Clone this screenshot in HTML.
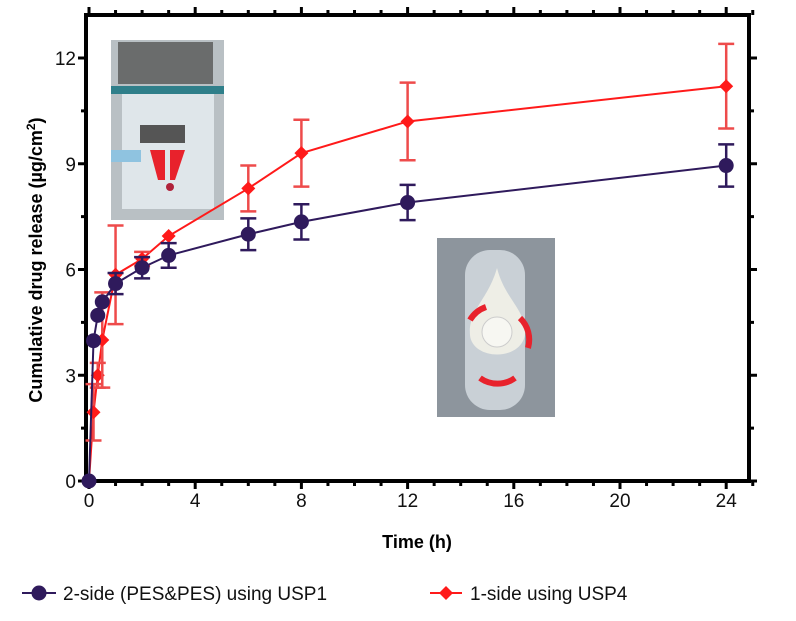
<!DOCTYPE html>
<html><head><meta charset="utf-8"><style>
body{margin:0;background:#fff;width:796px;height:616px;overflow:hidden;font-family:"Liberation Sans",Arial,sans-serif}
svg text{font-family:"Liberation Sans",Arial,sans-serif}
</style></head><body>
<svg id="chart" width="796" height="616">
<g id="insets"></g>
<g id="axes"></g>
<g id="series"></g>
</svg>
<script>
const times=[0,0.17,0.33,0.5,1,2,3,6,8,12,24];
const usp1Vals=[0,3.98,4.7,5.08,5.6,6.05,6.4,7.0,7.35,7.9,8.95];
const usp1Err=[0,0.12,0.1,0.1,0.3,0.3,0.35,0.45,0.5,0.5,0.6];
const usp4Vals=[0,1.95,3.0,4.0,5.85,6.3,6.95,8.3,9.3,10.2,11.2];
const usp4Err=[0,0.8,0.35,1.35,1.4,0.2,0.1,0.65,0.95,1.1,1.2];
const xTicks=[0,4,8,12,16,20,24];
const yTicks=[0,3,6,9,12];
const NS="http://www.w3.org/2000/svg";
const X0=89,XS=26.55,Y0=481,YS=35.25;
const L=86,R=749,T=15,B=481;
function xs(v){return X0+v*XS}
function ys(v){return Y0-v*YS}
function mk(parent,tag,attrs){const e=document.createElementNS(NS,tag);for(const k in attrs)e.setAttribute(k,attrs[k]);parent.appendChild(e);return e}
const axes=document.getElementById('axes'),ser=document.getElementById('series'),ins=document.getElementById('insets');
// insets
let i1=mk(ins,'g',{});


mk(i1,'rect',{x:111,y:40,width:113,height:180,fill:'#b9c0c4'});
mk(i1,'rect',{x:118,y:42,width:95,height:42,fill:'#6a6c6c'});
mk(i1,'rect',{x:111,y:86,width:113,height:8,fill:'#2f7f8a'});
mk(i1,'rect',{x:122,y:94,width:92,height:115,fill:'#dfe6ea'});
mk(i1,'rect',{x:111,y:150,width:30,height:12,fill:'#8fc3e0'});
mk(i1,'rect',{x:140,y:125,width:45,height:18,fill:'#555'});
mk(i1,'path',{d:'M150 150 L165 150 L165 180 L158 180 Z M170 150 L185 150 L175 180 L170 180 Z',fill:'#e8222c'});
mk(i1,'circle',{cx:170,cy:187,r:4,fill:'#b0223a'});
let i2=mk(ins,'g',{});


mk(i2,'rect',{x:437,y:238,width:118,height:179,fill:'#8d959d'});
mk(i2,'rect',{x:465,y:250,width:60,height:160,rx:25,fill:'#c9d0d6'});
mk(i2,'path',{d:'M497 268 C488 300 468 310 470 335 C472 360 520 362 525 335 C527 310 505 300 497 268 Z',fill:'#eeeee6'});
mk(i2,'circle',{cx:497,cy:332,r:15,fill:'#f7f7f2',stroke:'#ccc'});
mk(i2,'path',{d:'M470 320 A30 30 0 0 1 486 307 M520 318 A30 30 0 0 1 528 348 M480 378 A30 30 0 0 0 515 378',fill:'none',stroke:'#e8222c','stroke-width':6});
// frame
let fr=mk(axes,'rect',{x:L,y:T,width:R-L,height:B-T,fill:'none',stroke:'#000','stroke-width':4});


for(let t=0;t<=25;t++){const maj=t%4===0&&t<=24;const x=xs(t);
 mk(axes,'line',{x1:x,y1:B,x2:x,y2:B+(maj?8:5),stroke:'#000','stroke-width':3});
 mk(axes,'line',{x1:x,y1:T,x2:x,y2:T-(maj?8:5),stroke:'#000','stroke-width':3});}
for(let v=0;v<=13.2;v+=1.5){const y=ys(v);const maj=v%3===0;
 mk(axes,'line',{x1:L,y1:y,x2:L-(maj?8:5),y2:y,stroke:'#000','stroke-width':3});
 mk(axes,'line',{x1:R,y1:y,x2:R+(maj?8:5),y2:y,stroke:'#000','stroke-width':3});}
xTicks.forEach(t=>{let e=mk(axes,'text',{x:xs(t),y:B+26,'text-anchor':'middle','font-size':19,fill:'#111'});e.textContent=t;
 
 });
yTicks.forEach(v=>{let e=mk(axes,'text',{x:L-10,y:ys(v)+7,'text-anchor':'end','font-size':19,fill:'#111'});e.textContent=v;
 
 });
let xt=mk(axes,'text',{x:417,y:548,'text-anchor':'middle','font-size':18,'font-weight':'bold'});xt.textContent='Time (h)';


let yt=mk(axes,'text',{x:0,y:0,'text-anchor':'middle','font-size':18,'font-weight':'bold',transform:'translate(42,260) rotate(-90)'});
yt.innerHTML='Cumulative drug release (µg/cm<tspan dy="-7" font-size="12">2</tspan><tspan dy="7">)</tspan>';


function drawSeries(vals,errs,color,ecolor,shape,name){
 const g=mk(ser,'g',{});
 
 
 mk(g,'polyline',{points:times.map((t,i)=>xs(t)+','+ys(vals[i])).join(' '),fill:'none',stroke:color,'stroke-width':2});
 times.forEach((t,i)=>{const x=xs(t),y=ys(vals[i]);
  if(errs[i]>0.15){const y1=ys(vals[i]+errs[i]),y2=ys(vals[i]-errs[i]);
   mk(g,'line',{x1:x,y1:y1,x2:x,y2:y2,stroke:ecolor,'stroke-width':2.5});
   mk(g,'line',{x1:x-8,y1:y1,x2:x+8,y2:y1,stroke:ecolor,'stroke-width':2.5});
   mk(g,'line',{x1:x-8,y1:y2,x2:x+8,y2:y2,stroke:ecolor,'stroke-width':2.5});}
  let m;
  if(shape==='c')m=mk(g,'circle',{cx:x,cy:y,r:7.5,fill:color});
  else m=mk(g,'path',{d:`M${x} ${y-7}L${x+7} ${y}L${x} ${y+7}L${x-7} ${y}Z`,fill:color});
  
  
 });
}
drawSeries(usp4Vals,usp4Err,'#ff1a1a','#ee4b4b','d','usp4-series');
drawSeries(usp1Vals,usp1Err,'#2f1a5c','#2f1a5c','c','usp1-series');
// legend
const lg=mk(axes,'g',{});


mk(lg,'line',{x1:22,y1:593,x2:56,y2:593,stroke:'#2f1a5c','stroke-width':2});
mk(lg,'circle',{cx:39,cy:593,r:7.5,fill:'#2f1a5c'});
let t1=mk(lg,'text',{x:63,y:600,'font-size':19,fill:'#111'});t1.textContent='2-side (PES&PES) using USP1';


mk(lg,'line',{x1:430,y1:593,x2:462,y2:593,stroke:'#ff1a1a','stroke-width':2});
mk(lg,'path',{d:'M446 586L453 593L446 600L439 593Z',fill:'#ff1a1a'});
let t2=mk(lg,'text',{x:470,y:600,'font-size':19,fill:'#111'});t2.textContent='1-side using USP4';


</script>
</body></html>
